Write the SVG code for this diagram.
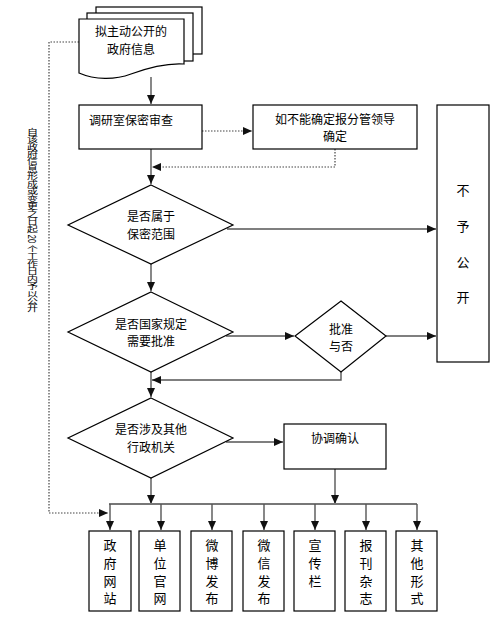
<svg xmlns="http://www.w3.org/2000/svg" width="503" height="624" viewBox="0 0 503 624">
<defs>
<marker id="ah" markerWidth="9" markerHeight="8" refX="9" refY="4" orient="auto" markerUnits="userSpaceOnUse"><path d="M0,0 L9,4 L0,8 z" fill="#111"/></marker>
<style>
.bx{fill:#fff;stroke:#000;stroke-width:1.2}
.t{font-family:"Liberation Sans","Noto Sans CJK SC",sans-serif;font-size:12px;fill:#000;text-anchor:middle}
.t13{font-size:13px}
.ln{fill:none;stroke:#555;stroke-width:1.4}
.dt{fill:none;stroke:#444;stroke-width:1.2;stroke-dasharray:1.5 1.5}
.bus{fill:none;stroke:#777;stroke-width:2.2}
</style>
</defs>
<rect width="503" height="624" fill="#fff"/>

<g id="connectors">
<path class="ln" d="M151,77 V104" marker-end="url(#ah)"/>
<path class="ln" d="M151,149 V184" marker-end="url(#ah)"/>
<path class="dt" d="M202,131 H252" marker-end="url(#ah)"/>
<path class="dt" d="M335,149 V167 H152" marker-end="url(#ah)"/>
<path class="ln" d="M227,229 H436" marker-end="url(#ah)"/>
<path class="ln" d="M151,264 V291" marker-end="url(#ah)"/>
<path class="ln" d="M226,336 H294" marker-end="url(#ah)"/>
<path class="ln" d="M386,336 H436" marker-end="url(#ah)"/>
<path class="ln" d="M341,372 V380 H152" marker-end="url(#ah)"/>
<path class="ln" d="M151,372 V397" marker-end="url(#ah)"/>
<path class="ln" d="M226,442 H283" marker-end="url(#ah)"/>
<path class="ln" d="M151,478 V504" marker-end="url(#ah)"/>
<path class="ln" d="M335,469 V504" marker-end="url(#ah)"/>
<path class="bus" d="M109,504 H417"/>
<path class="ln" d="M110,504 V530" marker-end="url(#ah)"/>
<path class="ln" d="M161,504 V530" marker-end="url(#ah)"/>
<path class="ln" d="M212,504 V530" marker-end="url(#ah)"/>
<path class="ln" d="M264,504 V530" marker-end="url(#ah)"/>
<path class="ln" d="M315,504 V530" marker-end="url(#ah)"/>
<path class="ln" d="M366,504 V530" marker-end="url(#ah)"/>
<path class="ln" d="M417,504 V530" marker-end="url(#ah)"/>
<path class="dt" d="M79,42 H49 V513 H108" marker-end="url(#ah)"/>
</g>

<g id="note">
<g transform="translate(32,128) scale(1,0.68)">
<text x="0" y="0" writing-mode="vertical-rl" style="font-family:'Liberation Sans','Noto Sans CJK SC',sans-serif;font-size:11px;fill:#000">自该政府信息形成或变更之日起 20 个工作日内予以公开</text>
</g>
</g>

<g id="doc">
<rect class="bx" x="96" y="7" width="106" height="47"/>
<rect class="bx" x="87" y="13" width="106" height="48"/>
<path class="bx" d="M79,19 H184 V64 C168,63 150,67 131,74 C115,80 95,80 79,73 Z"/>
<text class="t" x="131" y="36">拟主动公开的</text>
<text class="t" x="131" y="54">政府信息</text>
</g>

<g id="review">
<rect class="bx" x="79" y="105" width="123" height="44"/>
<text class="t" x="131" y="125">调研室保密审查</text>
</g>

<g id="leader">
<rect class="bx" x="253" y="105" width="164" height="44"/>
<text class="t" x="335" y="124">如不能确定报分管领导</text>
<text class="t" x="335" y="141">确定</text>
</g>

<g id="nodisclose">
<rect class="bx" x="437" y="105" width="52" height="257"/>
<text class="t t13" x="463" y="195">不</text>
<text class="t t13" x="463" y="231">予</text>
<text class="t t13" x="463" y="267">公</text>
<text class="t t13" x="463" y="302">开</text>
</g>

<g id="d1">
<polygon class="bx" points="151,185 233,225 151,264 68,225"/>
<text class="t" x="151" y="221">是否属于</text>
<text class="t" x="151" y="239">保密范围</text>
</g>

<g id="d2">
<polygon class="bx" points="151,292 233,332 151,372 68,332"/>
<text class="t" x="151" y="329">是否国家规定</text>
<text class="t" x="151" y="346">需要批准</text>
</g>

<g id="approve">
<polygon class="bx" points="341,301 386,336 341,372 295,336"/>
<text class="t" x="341" y="334">批准</text>
<text class="t" x="341" y="351">与否</text>
</g>

<g id="d3">
<polygon class="bx" points="151,398 233,438 151,478 68,438"/>
<text class="t" x="151" y="434">是否涉及其他</text>
<text class="t" x="151" y="452">行政机关</text>
</g>

<g id="coord">
<rect class="bx" x="284" y="424" width="102" height="45"/>
<text class="t" x="335" y="443">协调确认</text>
</g>

<g id="c1"><rect class="bx" x="89" y="531" width="42" height="80"/>
<text class="t t13" x="110" y="550">政</text><text class="t t13" x="110" y="568">府</text><text class="t t13" x="110" y="586">网</text><text class="t t13" x="110" y="603">站</text></g>
<g id="c2"><rect class="bx" x="139" y="531" width="41" height="80"/>
<text class="t t13" x="160" y="550">单</text><text class="t t13" x="160" y="568">位</text><text class="t t13" x="160" y="586">官</text><text class="t t13" x="160" y="603">网</text></g>
<g id="c3"><rect class="bx" x="191" y="531" width="41" height="80"/>
<text class="t t13" x="212" y="550">微</text><text class="t t13" x="212" y="568">博</text><text class="t t13" x="212" y="586">发</text><text class="t t13" x="212" y="603">布</text></g>
<g id="c4"><rect class="bx" x="243" y="531" width="41" height="80"/>
<text class="t t13" x="264" y="550">微</text><text class="t t13" x="264" y="568">信</text><text class="t t13" x="264" y="586">发</text><text class="t t13" x="264" y="603">布</text></g>
<g id="c5"><rect class="bx" x="294" y="531" width="41" height="80"/>
<text class="t t13" x="315" y="550">宣</text><text class="t t13" x="315" y="568">传</text><text class="t t13" x="315" y="586">栏</text></g>
<g id="c6"><rect class="bx" x="345" y="531" width="41" height="80"/>
<text class="t t13" x="366" y="550">报</text><text class="t t13" x="366" y="568">刊</text><text class="t t13" x="366" y="586">杂</text><text class="t t13" x="366" y="603">志</text></g>
<g id="c7"><rect class="bx" x="396" y="531" width="41" height="80"/>
<text class="t t13" x="417" y="550">其</text><text class="t t13" x="417" y="568">他</text><text class="t t13" x="417" y="586">形</text><text class="t t13" x="417" y="603">式</text></g>
</svg>
